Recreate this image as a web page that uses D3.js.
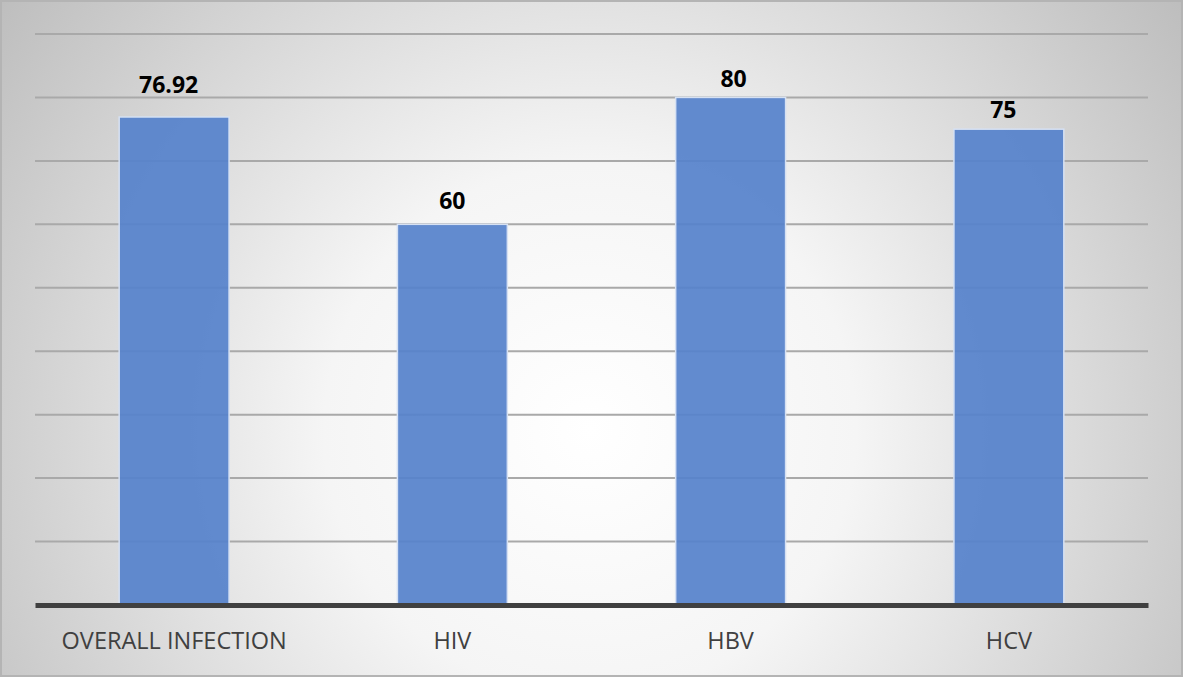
<!DOCTYPE html>
<meta charset="utf-8">
<style>
  body { margin: 0; }
  svg { display: block; }
</style>
<svg width="1183" height="677"></svg>
<script src="https://cdn.jsdelivr.net/npm/d3@7"></script>
<script>
// chart values
var categories = ["OVERALL INFECTION", "HIV", "HBV", "HCV"];
var values = [76.92, 60, 80, 75];
var labels = ["76.92", "60", "80", "75"];
var gridTicks = [10, 20, 30, 40, 50, 60, 70, 80, 90];

var svg = d3.select("svg"),
    width = +svg.attr("width"),
    height = +svg.attr("height"),
    margin = {top: 34, right: 35, bottom: 72, left: 35};

// background gradient
var defs = svg.append("defs");
var grad = defs.append("radialGradient")
    .attr("id", "bg")
    .attr("gradientUnits", "userSpaceOnUse")
    .attr("cx", 590).attr("cy", 430).attr("r", 760);
grad.append("stop").attr("offset", "0%").attr("stop-color", "#ffffff");
grad.append("stop").attr("offset", "35%").attr("stop-color", "#f5f5f5");
grad.append("stop").attr("offset", "100%").attr("stop-color", "#bababa");

svg.append("rect")
    .attr("x", 1).attr("y", 1)
    .attr("width", width - 2).attr("height", height - 2)
    .attr("fill", "url(#bg)")
    .attr("stroke", "#b4b4b4")
    .attr("stroke-width", 2);

var x = d3.scaleBand()
    .domain(categories)
    .range([margin.left, width - margin.right])
    .paddingInner(0.605)
    .paddingOuter(0.3025);

var y = d3.scaleLinear()
    .domain([0, 90])
    .range([height - margin.bottom, margin.top]);

// gridlines
svg.append("g")
    .selectAll("line")
    .data(gridTicks)
    .enter().append("line")
    .attr("x1", margin.left)
    .attr("x2", width - margin.right)
    .attr("y1", function(d) { return y(d); })
    .attr("y2", function(d) { return y(d); })
    .attr("stroke", "#a9a9a9")
    .attr("stroke-width", 2);

// bars
svg.append("g")
    .selectAll("rect")
    .data(values)
    .enter().append("rect")
    .attr("x", function(d, i) { return x(categories[i]); })
    .attr("y", function(d) { return y(d); })
    .attr("width", x.bandwidth())
    .attr("height", function(d) { return y(0) - y(d); })
    .attr("fill", "#5682cb")
    .attr("fill-opacity", 0.93)
    .attr("stroke", "#d6e1f3")
    .attr("stroke-width", 1.5);

// value labels (hand-placed in the original, so nudged a little)
var nudgeX = [-5.5, 0, 3, -5.5],
    gapY = [24, 15, 10, 11];
svg.append("g")
    .selectAll("text")
    .data(values)
    .enter().append("text")
    .attr("x", function(d, i) { return x(categories[i]) + x.bandwidth() / 2 + nudgeX[i]; })
    .attr("y", function(d, i) { return y(d) - gapY[i]; })
    .attr("text-anchor", "middle")
    .style("font-family", "'Open Sans', sans-serif")
    .style("font-weight", "bold")
    .style("font-size", "23px")
    .attr("fill", "#000")
    .text(function(d, i) { return labels[i]; });

// x axis
var xAxis = svg.append("g")
    .attr("transform", "translate(0," + y(0) + ")")
    .call(d3.axisBottom(x).tickSize(0).tickPadding(27));
xAxis.select(".domain")
    .attr("stroke", "#404040")
    .attr("stroke-width", 5);
xAxis.selectAll("text")
    .style("font-family", "'Open Sans', sans-serif")
    .style("font-size", "23.5px")
    .attr("fill", "#404040");
</script>
